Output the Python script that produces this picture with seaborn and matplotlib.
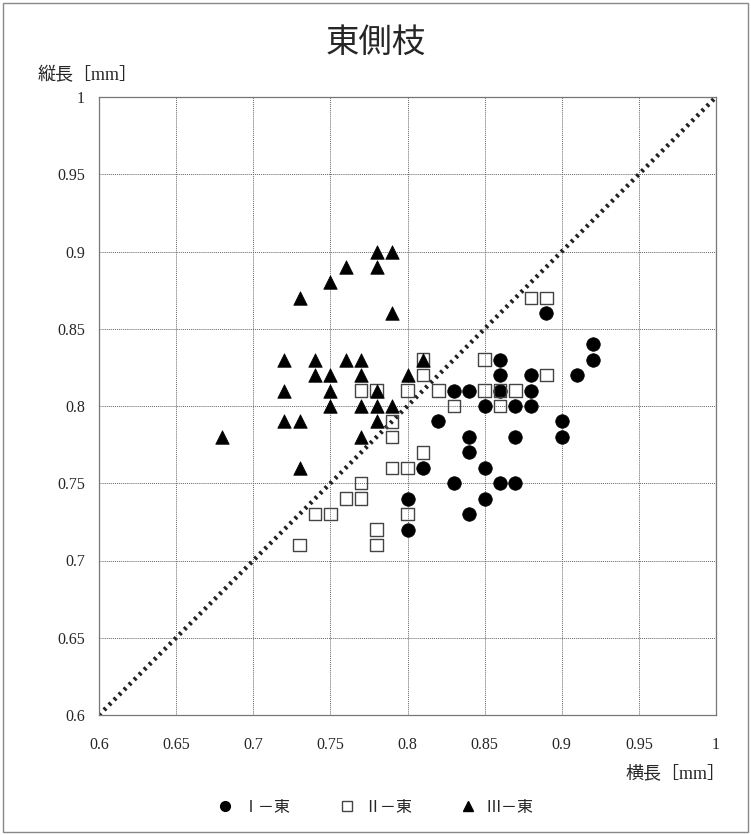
import matplotlib
matplotlib.use("Agg")
import matplotlib.pyplot as plt
import numpy as np
import pandas as pd
import seaborn as sns
from matplotlib.lines import Line2D
from matplotlib.patches import Rectangle

# Ⅰ－東 (filled circles)
s1_x = [0.89, 0.92, 0.92, 0.91, 0.86, 0.86, 0.88, 0.83, 0.84, 0.86, 0.88, 0.85, 0.87,
        0.88, 0.82, 0.90, 0.84, 0.87, 0.90, 0.84, 0.81, 0.85, 0.83, 0.86, 0.87, 0.80,
        0.85, 0.84, 0.80]
s1_y = [0.86, 0.84, 0.83, 0.82, 0.83, 0.82, 0.82, 0.81, 0.81, 0.81, 0.81, 0.80, 0.80,
        0.80, 0.79, 0.79, 0.78, 0.78, 0.78, 0.77, 0.76, 0.76, 0.75, 0.75, 0.75, 0.74,
        0.74, 0.73, 0.72]

# Ⅱ－東 (open squares)
s2_x = [0.88, 0.89, 0.89, 0.85, 0.81, 0.81, 0.80, 0.82, 0.85, 0.86, 0.87, 0.83, 0.86,
        0.77, 0.78, 0.79, 0.79, 0.81, 0.79, 0.80, 0.77, 0.76, 0.77, 0.74, 0.75, 0.80,
        0.78, 0.78, 0.73]
s2_y = [0.87, 0.87, 0.82, 0.83, 0.83, 0.82, 0.81, 0.81, 0.81, 0.81, 0.81, 0.80, 0.80,
        0.81, 0.81, 0.79, 0.78, 0.77, 0.76, 0.76, 0.75, 0.74, 0.74, 0.73, 0.73, 0.73,
        0.72, 0.71, 0.71]

# Ⅲ－東 (filled triangles)
s3_x = [0.78, 0.79, 0.76, 0.78, 0.75, 0.73, 0.79, 0.72, 0.74, 0.76, 0.77, 0.81, 0.74,
        0.75, 0.77, 0.80, 0.72, 0.75, 0.78, 0.75, 0.77, 0.78, 0.79, 0.72, 0.73, 0.78,
        0.68, 0.77, 0.73]
s3_y = [0.90, 0.90, 0.89, 0.89, 0.88, 0.87, 0.86, 0.83, 0.83, 0.83, 0.83, 0.83, 0.82,
        0.82, 0.82, 0.82, 0.81, 0.81, 0.81, 0.80, 0.80, 0.80, 0.80, 0.79, 0.79, 0.79,
        0.78, 0.78, 0.76]

series_names = ["Ⅰ－東", "Ⅱ－東", "Ⅲ－東"]
diag_x = [0.6, 1.0]
diag_y = [0.6, 1.0]
ticks = [0.6, 0.65, 0.7, 0.75, 0.8, 0.85, 0.9, 0.95, 1.0]

sns.set_style("white")
plt.rcParams["font.family"] = ["Liberation Serif", "Noto Sans CJK JP", "DejaVu Sans"]

fig = plt.figure(figsize=(7.51, 8.35), dpi=100)
ax = fig.add_axes([99 / 751, 1 - 715 / 835, 617 / 751, 618 / 835])

df1 = pd.DataFrame({"x": s1_x, "y": s1_y})
df2 = pd.DataFrame({"x": s2_x, "y": s2_y})
df3 = pd.DataFrame({"x": s3_x, "y": s3_y})

# diagonal y = x reference line
sns.lineplot(x=diag_x, y=diag_y, ax=ax, color="#222222", linestyle=(0, (0.6, 1.0)),
             linewidth=3.2, zorder=2)
sns.scatterplot(data=df1, x="x", y="y", ax=ax, marker="o", s=95, color="black",
                edgecolor="black", linewidth=0.5, zorder=3)
sns.scatterplot(data=df2, x="x", y="y", ax=ax, marker="s", s=80, facecolor="none",
                edgecolor="#444444", linewidth=1.0, zorder=3)
sns.scatterplot(data=df3, x="x", y="y", ax=ax, marker="^", s=95, color="black",
                edgecolor="black", linewidth=0.5, zorder=4)

ax.set_xlim(0.6, 1.0)
ax.set_ylim(0.6, 1.0)
ax.set_xticks(ticks)
ax.set_yticks(ticks)
ax.set_xticklabels([f"{t:g}" for t in ticks], fontsize=11.5)
ax.set_yticklabels([f"{t:g}" for t in ticks], fontsize=11.5)
ax.tick_params(axis="both", direction="out", length=4, width=0.8, color="#777777", pad=12)
ax.tick_params(axis="y", pad=6)
ax.grid(True, color="#666666", linestyle=(0, (1, 1)), linewidth=0.7)
ax.set_axisbelow(True)
for sp in ax.spines.values():
    sp.set_visible(True)
    sp.set_color("#777777")
    sp.set_linewidth(0.9)
ax.set_xlabel("")
ax.set_ylabel("")

fig.text(0.5, 1 - 44 / 835, "東側枝", ha="center", va="center", fontsize=24)
fig.text(38 / 751, 1 - 76 / 835, "縦長［mm］", ha="left", va="center", fontsize=13)
fig.text(726 / 751, 1 - 774 / 835, "横長［mm］", ha="right", va="center", fontsize=13)

handles = [
    Line2D([], [], marker="o", linestyle="", color="black", markersize=7),
    Line2D([], [], marker="s", linestyle="", markerfacecolor="none",
           markeredgecolor="#444444", markersize=7),
    Line2D([], [], marker="^", linestyle="", color="black", markersize=7),
]
fig.legend(handles, series_names, loc="center", bbox_to_anchor=(0.495, 1 - 808 / 835),
           ncol=3, frameon=False, fontsize=11.5, handletextpad=0.1, columnspacing=2.5)

fig.add_artist(Rectangle((0.004, 0.004), 0.992, 0.992, transform=fig.transFigure,
                         fill=False, edgecolor="#888888", linewidth=1.0))

fig.savefig("out.png", dpi=100)
